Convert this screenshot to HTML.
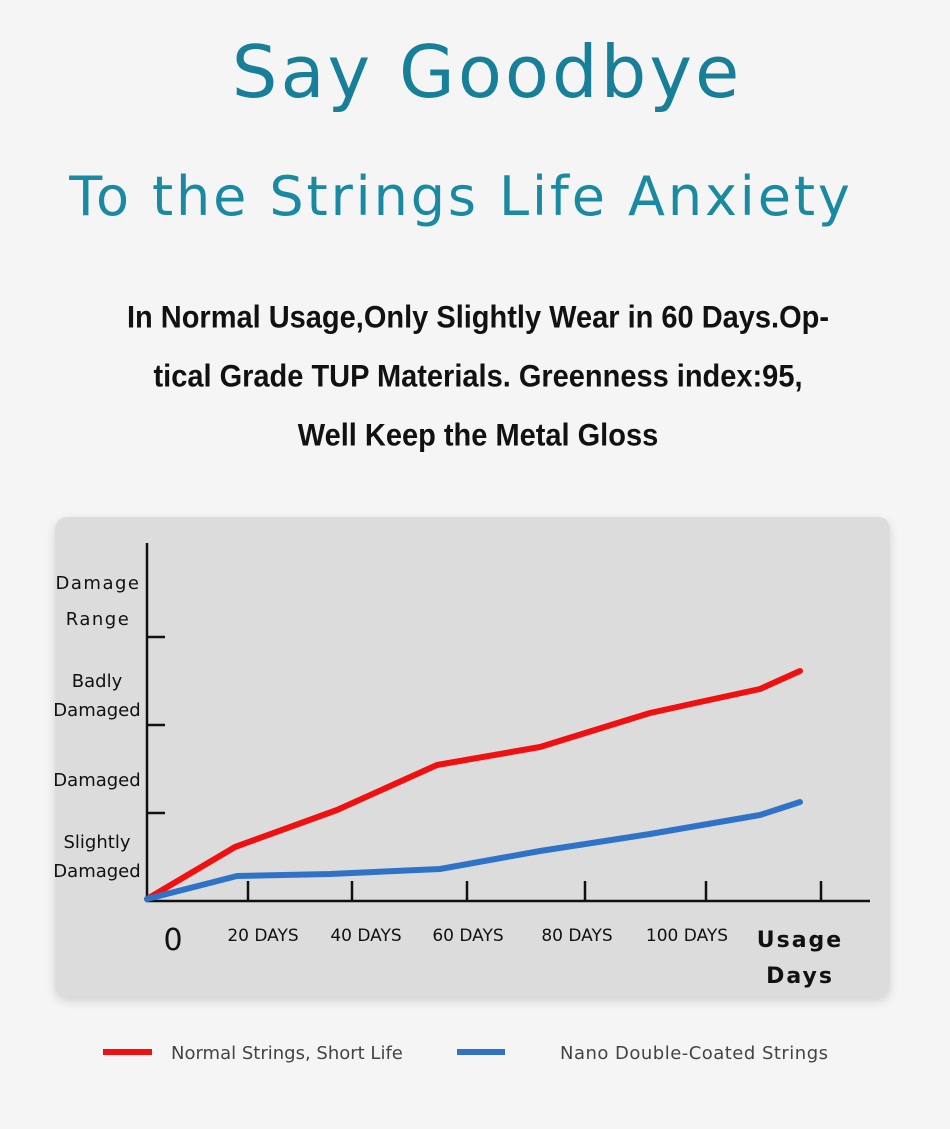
<!DOCTYPE html>
<html><head><meta charset="utf-8"><style>
body{margin:0;width:950px;height:1129px;background:#f5f5f5;position:relative;overflow:hidden;font-family:"DejaVu Sans","Liberation Sans",sans-serif}
.t{position:absolute;left:0;width:950px;text-align:center;color:#1a7f9c;white-space:nowrap}
.s{position:absolute;left:0;width:964px;text-align:center;font-family:"Liberation Sans Narrow","Liberation Sans",sans-serif;font-weight:bold;font-size:29px;color:#111;white-space:nowrap;transform:scaleY(1.08)}
.card{position:absolute;left:55px;top:517px;width:835px;height:480px;background:#dcdcdc;border-radius:12px;box-shadow:0 4px 10px rgba(0,0,0,0.15)}
</style></head><body>
<div class="t" style="top:30px;font-size:72px;letter-spacing:3px;left:12px;color:#187f98">Say Goodbye</div>
<div class="t" style="top:165px;font-size:54px;letter-spacing:2.9px;left:-14px;color:#1a8aa3">To the Strings Life Anxiety</div>
<div class="s" style="top:302px;left:-4px">In Normal Usage,Only Slightly Wear in 60 Days.Op-</div>
<div class="s" style="top:361px;left:-4px">tical Grade TUP Materials. Greenness index:95,</div>
<div class="s" style="top:420px;left:-4px">Well Keep the Metal Gloss</div>
<div class="card"></div>
<svg width="950" height="1129" style="position:absolute;left:0;top:0">
<g stroke="#111" stroke-width="2.5" fill="none">
<path d="M147 543V901H870"/>
<path d="M147 637H165M147 725H165M147 813H165"/>
<path d="M248 881V901M352 881V901M467 881V901M585 881V901M706 881V901M821 881V901"/>
</g>
<polyline fill="none" stroke="#f01010" stroke-width="6" stroke-linecap="round" stroke-linejoin="round" points="147,899 235,847 337,810 437,765 540,747 650,713 700,702 760,689 800,671"/>
<polyline fill="none" stroke="#2f73c8" stroke-width="6" stroke-linecap="round" stroke-linejoin="round" points="147,899 237,876 330,874 440,869 540,851 650,834 760,815 800,802"/>
<g font-family="DejaVu Sans,Liberation Sans,sans-serif" fill="#111" font-size="18" text-anchor="middle">
<text x="98" y="589" letter-spacing="1.5">Damage</text>
<text x="98" y="625" letter-spacing="1.5">Range</text>
<text x="97" y="687">Badly</text>
<text x="97" y="716">Damaged</text>
<text x="97" y="786">Damaged</text>
<text x="97" y="848">Slightly</text>
<text x="97" y="877">Damaged</text>
<text x="173" y="950" font-size="30">0</text>
<g font-size="17">
<text x="263" y="941">20 DAYS</text>
<text x="366" y="941">40 DAYS</text>
<text x="468" y="941">60 DAYS</text>
<text x="577" y="941">80 DAYS</text>
<text x="687" y="941">100 DAYS</text>
</g>
<text x="800" y="947" font-size="22" font-weight="bold" letter-spacing="2">Usage</text>
<text x="800" y="983" font-size="22" font-weight="bold" letter-spacing="2">Days</text>
</g>
<rect x="103" y="1049" width="49" height="6" fill="#f01010"/>
<rect x="457" y="1049" width="48" height="6" fill="#2f73c8"/>
<g font-family="DejaVu Sans,Liberation Sans,sans-serif" fill="#444" font-size="18">
<text x="171" y="1059">Normal Strings, Short Life</text>
<text x="560" y="1059" textLength="268">Nano  Double-Coated Strings</text>
</g>
</svg>
</body></html>
